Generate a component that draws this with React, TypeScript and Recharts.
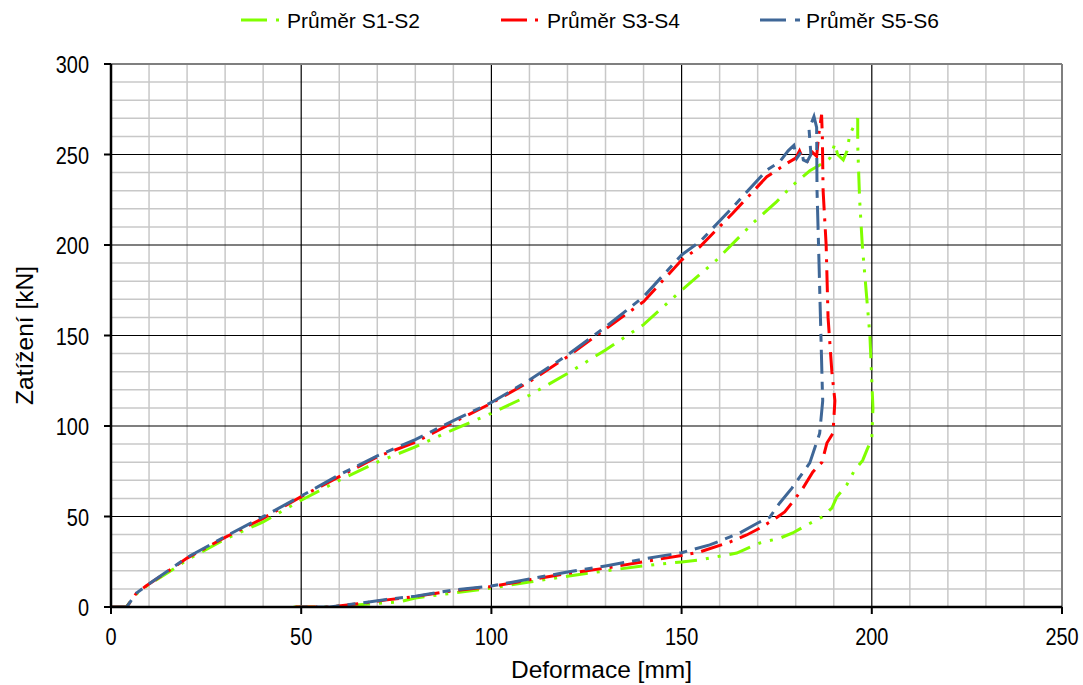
import React from 'react';
import { LineChart, Line, XAxis, YAxis, CartesianGrid } from 'recharts';

// ---- Data ----
const seriesNames = ['Průměr S1-S2', 'Průměr S3-S4', 'Průměr S5-S6'];

const s12X = [0, 4, 6.8, 9.2, 15, 20, 30, 40, 50, 60, 70, 80, 90, 100, 110, 120, 130, 140, 150, 159.2, 168.7, 175, 179.2, 183.7, 187, 189, 190.3, 191, 192.5, 193.5, 194.2, 196.3, 196.3, 196.8, 197.5, 198.5, 199.5, 200.3, 200, 198.7, 197.6, 195.5, 193.4, 190.8, 189.5, 186.9, 182.9, 179.2, 175.8, 170.6, 164.5, 154.8, 150, 140, 130, 120, 110, 100, 90, 80, 76, 70, 60, 57.5, 55, 48];
const s12Y = [0, 0, 7.4, 11.3, 19, 26, 37.5, 47, 59, 70, 80, 88.5, 98, 107, 117, 129, 142, 156, 175, 191.7, 212, 224, 233, 241, 245, 248, 256, 250, 247, 252, 261, 270, 255, 225, 200, 175, 150, 110, 93, 86.7, 81, 75.7, 67.4, 60.8, 54.7, 49.7, 45.3, 40.9, 38, 35.4, 29.8, 26, 24.9, 22.7, 20, 17, 13.8, 10.5, 7.7, 5, 2.9, 2, 0.5, 0, 0, 0];

const s34X = [0, 4.1, 6.7, 9.2, 15, 20, 30, 40, 50, 60, 70, 80, 90, 100, 110, 120, 130, 140, 150, 154.8, 163.5, 172.4, 177.6, 180, 181, 182, 183.5, 184.5, 185.5, 186, 186.8, 187, 187.2, 188, 188.5, 189.5, 190.3, 189.8, 188.2, 186.9, 184.5, 181.9, 179.8, 177.1, 174, 170.6, 167.1, 162.7, 154.8, 150, 140, 130, 120, 110, 100, 90, 80, 72, 65, 57.5, 47.8];
const s34Y = [0, 0, 7.7, 11.6, 19.8, 27, 38.5, 49, 61, 72, 83, 91, 102, 112.6, 124.5, 138.3, 153.6, 168.7, 191.7, 199, 217.7, 237.7, 245, 248, 252, 247, 246, 251, 249, 260, 272, 260, 230, 200, 160, 130, 114, 96, 90.6, 80, 74.6, 65.7, 59.7, 52.5, 48, 43.6, 39.8, 35.9, 30.4, 28.5, 25, 21.5, 18.5, 15, 11.3, 9, 5.8, 3.8, 1.8, 0, 0];

const s56X = [0, 4.1, 6.7, 9.2, 15, 20, 30, 40, 50, 60, 70, 80, 90, 100, 110, 120, 130, 140, 150, 154.8, 163.5, 172.4, 175.8, 178, 179.5, 180.3, 181.6, 182, 183, 184, 183.5, 184.8, 185.5, 185.6, 186, 186.5, 187, 187.1, 186.3, 183.7, 179, 175.8, 173.2, 170, 165.3, 157.4, 150, 140, 130, 120, 110, 100, 90, 80, 72.4, 65, 57.5, 47.8];
const s56Y = [0, 0, 7.7, 11.6, 20, 27.4, 38.9, 49.9, 61.3, 73, 83.5, 92.5, 103, 113, 125.4, 139.2, 154.7, 171.4, 194.5, 201.8, 221, 241.4, 246, 252, 255, 248, 252, 247, 246, 250, 264, 271, 265, 230, 200, 160, 120, 114, 96, 79.6, 65.7, 57.5, 49.7, 46.4, 40.9, 34.3, 30, 26.5, 22.7, 19.3, 15.5, 11.6, 9.4, 6, 4.2, 2, 0, 0];

const xTicks = [0, 50, 100, 150, 200, 250];
const yTicks = [0, 50, 100, 150, 200, 250, 300];
const xMinor = [10, 20, 30, 40, 60, 70, 80, 90, 110, 120, 130, 140, 160, 170, 180, 190, 210, 220, 230, 240];
const yMinor = [10, 20, 30, 40, 60, 70, 80, 90, 110, 120, 130, 140, 160, 170, 180, 190, 210, 220, 230, 240, 260, 270, 280, 290];
const xMajor = [50, 100, 150, 200];
const yMajor = [50, 100, 150, 200, 250];
const xEdge = [250];
const yEdge = [300];

const zip = (xs: number[], ys: number[]) => xs.map((x, i) => ({ x, y: ys[i] }));
const d12 = zip(s12X, s12Y);
const d34 = zip(s34X, s34Y);
const d56 = zip(s56X, s56Y);

const colors = ['#80ff00', '#ff0000', '#3f6797'];
const dashes = ['22 9 3 9 3 9', '22 8 3 8', '24 8 8 8'];

const FONT = "'Liberation Sans', Arial, Helvetica, sans-serif";

const vGen = (vals: number[]) => (p: any) =>
  vals.map((v) =>
    p && p.xAxis && typeof p.xAxis.scale === 'function'
      ? p.xAxis.scale(v)
      : p.offset.left + (p.offset.width * v) / 250
  );
const hGen = (vals: number[]) => (p: any) =>
  vals.map((v) =>
    p && p.yAxis && typeof p.yAxis.scale === 'function'
      ? p.yAxis.scale(v)
      : p.offset.top + p.offset.height * (1 - v / 300)
  );

const XTick = (props: any) => {
  const { x, y, payload } = props;
  return (
    <g transform={`translate(${x},${y})`}>
      <text x={0} y={0} dy={31} textAnchor="middle" fontSize={24} fontFamily={FONT} fill="#000" transform="scale(0.83,1)">
        {payload.value}
      </text>
    </g>
  );
};

const YTick = (props: any) => {
  const { x, y, payload } = props;
  return (
    <g transform={`translate(${x},${y})`}>
      <text x={0} y={0} dy={9} textAnchor="end" fontSize={24} fontFamily={FONT} fill="#000" transform="scale(0.83,1)">
        {payload.value}
      </text>
    </g>
  );
};

const legendItems = [
  { lineX: 241, textX: 287 },
  { lineX: 501, textX: 547 },
  { lineX: 760, textX: 806 },
];

const Legend = () => (
  <svg width={1083} height={45} style={{ position: 'absolute', left: 0, top: 0, pointerEvents: 'none' }}>
    {legendItems.map((it, i) => (
      <g key={i}>
        <line x1={it.lineX} x2={it.lineX + 40} y1={20} y2={20} stroke={colors[i]} strokeWidth={3} strokeDasharray={i === 2 ? '26 9 8 40' : i === 1 ? '26 8 3 40' : '26 9 3 40'} />
        <text x={it.textX} y={28} fontSize={21} fontFamily={FONT} fill="#000">
          {seriesNames[i]}
        </text>
      </g>
    ))}
  </svg>
);

export default function App() {
  return (
    <div style={{ position: 'absolute', left: 0, top: 0, width: 1083, height: 685, background: '#fff' }}>
      <LineChart width={1083} height={685} margin={{ top: 64, right: 21, bottom: 0, left: 0 }}>
        <CartesianGrid stroke="#c8c8c8" strokeWidth={1.5} horizontalCoordinatesGenerator={hGen(yMinor)} verticalCoordinatesGenerator={vGen(xMinor)} />
        <CartesianGrid stroke="#000" strokeWidth={1.2} horizontalCoordinatesGenerator={hGen(yMajor)} verticalCoordinatesGenerator={vGen(xMajor)} />
        <CartesianGrid stroke="#7f7f7f" strokeWidth={2} horizontalCoordinatesGenerator={hGen(yEdge)} verticalCoordinatesGenerator={vGen(xEdge)} />
        <XAxis
          type="number"
          dataKey="x"
          domain={[0, 250]}
          ticks={xTicks}
          allowDataOverflow
          height={78}
          tickSize={7}
          tickMargin={0}
          axisLine={{ stroke: '#000', strokeWidth: 2.5 }}
          tickLine={{ stroke: '#000', strokeWidth: 2 }}
          tick={<XTick />}
          label={{ value: 'Deformace [mm]', position: 'insideBottom', offset: 7, dx: 15, style: { fontSize: 24.5, fontFamily: FONT, fill: '#000' } }}
        />
        <YAxis
          type="number"
          dataKey="y"
          domain={[0, 300]}
          ticks={yTicks}
          allowDataOverflow
          width={111}
          tickSize={7}
          tickMargin={15}
          axisLine={{ stroke: '#000', strokeWidth: 2.5 }}
          tickLine={{ stroke: '#000', strokeWidth: 2 }}
          tick={<YTick />}
          label={{ value: 'Zatížení [kN]', angle: -90, position: 'insideLeft', offset: 24, style: { textAnchor: 'middle', fontSize: 24.5, fontFamily: FONT, fill: '#000' } }}
        />
        <Line data={d12} dataKey="y" name={seriesNames[0]} type="linear" stroke={colors[0]} strokeWidth={3} strokeDasharray={dashes[0]} dot={false} isAnimationActive={false} />
        <Line data={d34} dataKey="y" name={seriesNames[1]} type="linear" stroke={colors[1]} strokeWidth={3} strokeDasharray={dashes[1]} dot={false} isAnimationActive={false} />
        <Line data={d56} dataKey="y" name={seriesNames[2]} type="linear" stroke={colors[2]} strokeWidth={3} strokeDasharray={dashes[2]} dot={false} isAnimationActive={false} />
      </LineChart>
      <Legend />
    </div>
  );
}
